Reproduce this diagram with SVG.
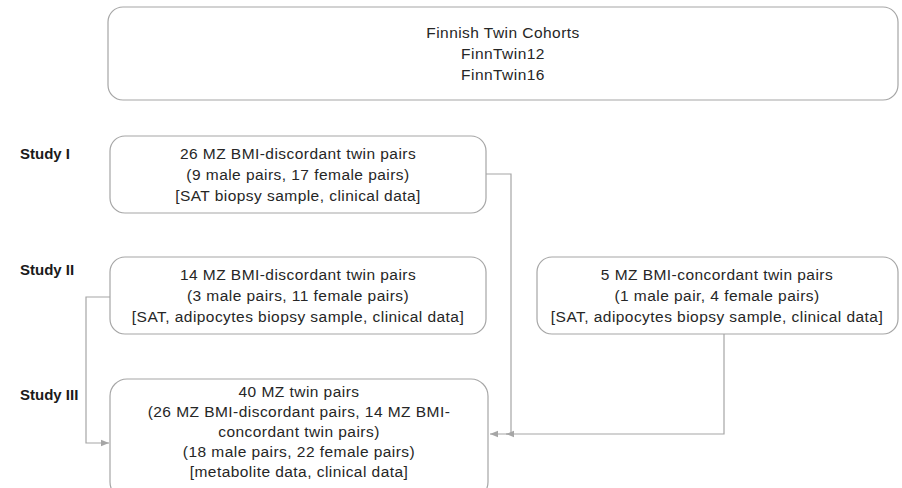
<svg xmlns="http://www.w3.org/2000/svg" width="902" height="488" viewBox="0 0 902 488">
  <defs>
    <style>
      .box { fill: #ffffff; stroke: #a6a6a6; stroke-width: 1.2; }
      .txt { font-family: "Liberation Sans", Arial, sans-serif; font-size: 15.5px; letter-spacing: 0.45px; fill: #262626; text-anchor: middle; }
      .lbl { font-family: "Liberation Sans", Arial, sans-serif; font-size: 15px; font-weight: bold; fill: #1a1a1a; }
      .wire { fill: none; stroke: #a6a6a6; stroke-width: 1.2; }
    </style>
    <marker id="arrow" viewBox="0 0 10 10" refX="10" refY="5" markerWidth="8" markerHeight="8" markerUnits="userSpaceOnUse" orient="auto">
      <path d="M0,1 L10,5 L0,9 z" fill="#a6a6a6"/>
    </marker>
  </defs>

  <!-- connectors -->
  <g id="connectors">
    <path class="wire" d="M486,174 H511 V434 H490" marker-end="url(#arrow)"/>
    <path class="wire" d="M724,334 V434 H506" marker-end="url(#arrow)"/>
    <path class="wire" d="M110,297 H86 V443 H109" marker-end="url(#arrow)"/>
  </g>

  <!-- row labels -->
  <g id="labels">
    <text class="lbl" x="20" y="159">Study I</text>
    <text class="lbl" x="20" y="275">Study II</text>
    <text class="lbl" x="20" y="400">Study III</text>
  </g>

  <g id="cohorts">
    <rect class="box" x="108" y="7" width="790" height="93" rx="15"/>
    <text class="txt" x="503" y="38">Finnish Twin Cohorts</text>
    <text class="txt" x="503" y="59">FinnTwin12</text>
    <text class="txt" x="503" y="80">FinnTwin16</text>
  </g>

  <g id="study1">
    <rect class="box" x="110" y="136" width="376" height="77" rx="15"/>
    <text class="txt" x="298" y="159">26 MZ BMI-discordant twin pairs</text>
    <text class="txt" x="298" y="180">(9 male pairs, 17 female pairs)</text>
    <text class="txt" x="298" y="201">[SAT biopsy sample, clinical data]</text>
  </g>

  <g id="study2">
    <rect class="box" x="110" y="257" width="376" height="77" rx="15"/>
    <text class="txt" x="298" y="280">14 MZ BMI-discordant twin pairs</text>
    <text class="txt" x="298" y="301">(3 male pairs, 11 female pairs)</text>
    <text class="txt" x="298" y="322">[SAT, adipocytes biopsy sample, clinical data]</text>
  </g>

  <g id="concordant">
    <rect class="box" x="537" y="257" width="361" height="77" rx="15"/>
    <text class="txt" x="717" y="280">5 MZ BMI-concordant twin pairs</text>
    <text class="txt" x="717" y="301">(1 male pair, 4 female pairs)</text>
    <text class="txt" x="717" y="322">[SAT, adipocytes biopsy sample, clinical data]</text>
  </g>

  <g id="study3">
    <rect class="box" x="110" y="379" width="378" height="120" rx="17"/>
    <text class="txt" x="299" y="397">40 MZ twin pairs</text>
    <text class="txt" x="299" y="417">(26 MZ BMI-discordant pairs, 14 MZ BMI-</text>
    <text class="txt" x="299" y="437">concordant twin pairs)</text>
    <text class="txt" x="299" y="457">(18 male pairs, 22 female pairs)</text>
    <text class="txt" x="299" y="477">[metabolite data, clinical data]</text>
  </g>
</svg>
